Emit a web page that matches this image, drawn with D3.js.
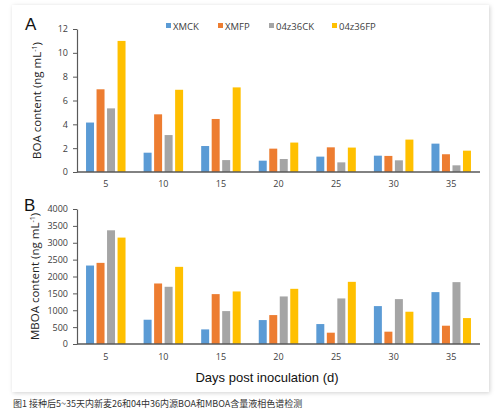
<!DOCTYPE html>
<html><head><meta charset="utf-8">
<script src="https://cdn.jsdelivr.net/npm/d3@7"></script>
<style>body{margin:0;background:#fff;}svg{display:block;}</style>
</head><body>
<svg id="c" width="500" height="414"></svg>
<script>
const days = ["5","10","15","20","25","30","35"];
const seriesNames = ["XMCK","XMFP","04z36CK","04z36FP"];
const colors = ["#5B9BD5","#ED7D31","#A5A5A5","#FFC000"];
const boaXMCK   = [4.15,1.62,2.18,0.95,1.29,1.37,2.38];
const boaXMFP   = [6.94,4.84,4.45,1.96,2.07,1.35,1.49];
const boa04CK   = [5.34,3.10,1.00,1.09,0.81,0.98,0.56];
const boa04FP   = [11.0,6.90,7.10,2.47,2.05,2.72,1.79];
const mboaXMCK  = [2325,719,433,709,591,1123,1537];
const mboaXMFP  = [2404,1793,1478,857,335,365,542];
const mboa04CK  = [3369,1695,975,1409,1350,1330,1833];
const mboa04FP  = [3153,2286,1557,1635,1842,956,768];
const boaTicks  = [0,2,4,6,8,10,12];
const mboaTicks = [0,500,1000,1500,2000,2500,3000,3500,4000];

const svg = d3.select("#c");
const defs = svg.append("defs");
const f = defs.append("filter").attr("id","sh").attr("x","-5%").attr("y","-5%").attr("width","110%").attr("height","110%");
f.append("feDropShadow").attr("dx",1).attr("dy",1).attr("stdDeviation",2).attr("flood-color","#000").attr("flood-opacity",0.18);
svg.append("rect").attr("x",12).attr("y",5).attr("width",477).attr("height",387).attr("fill","#fff").attr("filter","url(#sh)");

const x0 = d3.scaleBand().domain(days).range([77,480]).paddingInner(0.314).paddingOuter(0.157);
const x1 = d3.scaleBand().domain(seriesNames).range([0,x0.bandwidth()]).paddingInner(0.24).paddingOuter(0);
const font = "'Open Sans', 'Liberation Sans', sans-serif";

function panel(data, ticks, y0, y1, label, letter, letterY, yLabelX, labelX, xLabY){
  const y = d3.scaleLinear().domain([0, ticks[ticks.length-1]]).range([y0,y1]);
  const g = svg.append("g");
  data.forEach((arr,si)=>{
    g.selectAll(null).data(arr).enter().append("rect")
      .attr("x",(d,i)=>x0(days[i])+x1(seriesNames[si]))
      .attr("y",d=>y(d)).attr("width",x1.bandwidth())
      .attr("height",d=>y0-y(d)).attr("fill",colors[si]);
  });
  const ax = g.append("g").attr("transform","translate(77,0)")
    .call(d3.axisLeft(y).tickValues(ticks).tickFormat(d3.format("d")).tickSize(4).tickSizeOuter(0).tickPadding(5));
  ax.select(".domain").attr("stroke","#595959").attr("stroke-width",1.2);
  ax.selectAll(".tick line").attr("stroke","#595959");
  ax.selectAll("text").attr("font-family",font).attr("font-size",9).attr("fill","#404040");
  g.append("line").attr("x1",77).attr("x2",480).attr("y1",y0).attr("y2",y0).attr("stroke","#595959").attr("stroke-width",1.5);
  g.selectAll(null).data(days).enter().append("text")
    .attr("x",d=>x0(d)+x0.bandwidth()/2).attr("y",xLabY).attr("text-anchor","middle")
    .attr("font-family",font).attr("font-size",9).attr("fill","#404040").text(d=>d);
  const yl = g.append("text").attr("transform",`translate(${yLabelX},${(y0+y1)/2}) rotate(-90)`)
    .attr("text-anchor","middle").attr("font-family",font).attr("font-size",11.5).attr("fill","#222");
  yl.append("tspan").text(label);
  yl.append("tspan").attr("font-size",7).attr("dy",-4).text("-1");
  yl.append("tspan").attr("dy",4).text(")");
  svg.append("text").attr("x",labelX).attr("y",letterY).attr("font-family","'Liberation Sans', Arial, sans-serif")
    .attr("font-size",17).attr("fill","#111").text(letter);
}
panel([boaXMCK,boaXMFP,boa04CK,boa04FP], boaTicks, 172, 29, "BOA content (ng mL", "A", 30, 41, 25, 187);
panel([mboaXMCK,mboaXMFP,mboa04CK,mboa04FP], mboaTicks, 344, 209, "MBOA content (ng mL", "B", 211, 39, 24, 360);

const legX = [166,218,269,332];
const lg = svg.append("g");
seriesNames.forEach((s,i)=>{
  lg.append("rect").attr("x",legX[i]).attr("y",23).attr("width",5).attr("height",5).attr("fill",colors[i]);
  lg.append("text").attr("x",legX[i]+7).attr("y",29.5).attr("font-family",font).attr("font-size",9.5).attr("fill","#404040").text(s);
});

svg.append("text").attr("x",267).attr("y",382).attr("text-anchor","middle").attr("font-family","'Liberation Sans', Arial, sans-serif")
  .attr("font-size",13).attr("fill","#111").text("Days post inoculation (d)");
svg.append("text").attr("x",13).attr("y",407).attr("font-family","'Noto Sans CJK SC', sans-serif")
  .attr("font-size",9).attr("fill","#333").text("图1 接种后5~35天内新麦26和04中36内源BOA和MBOA含量液相色谱检测");
</script>
</body></html>
